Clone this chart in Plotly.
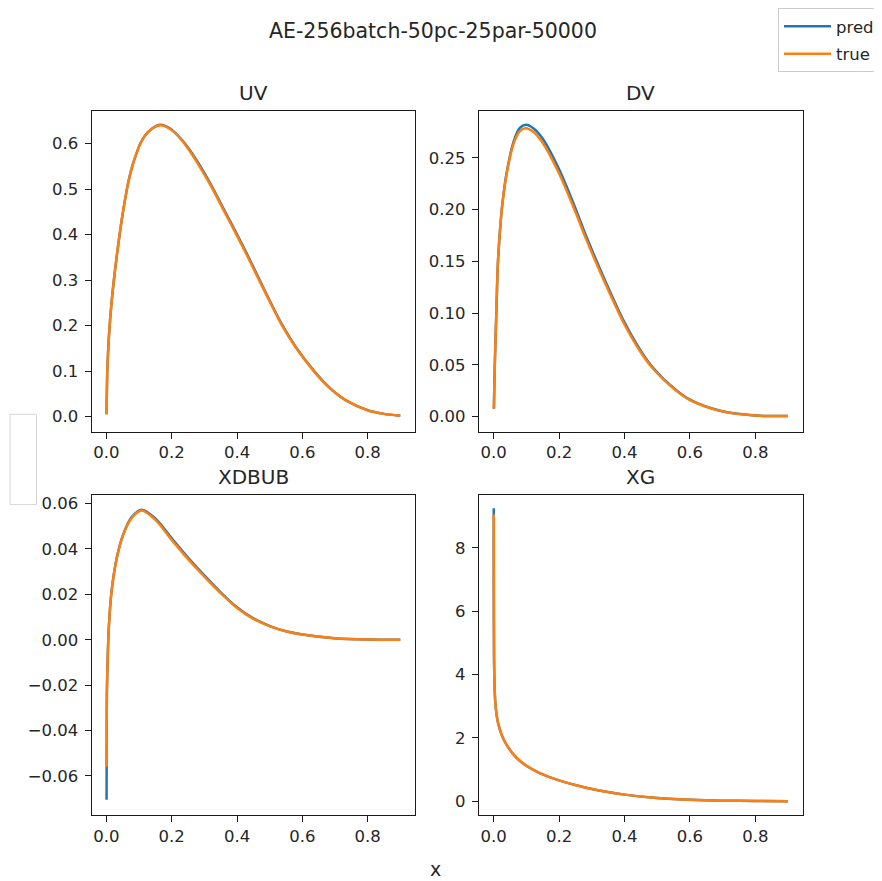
import plotly.graph_objects as go

# The page body has an 8 px margin, so the figure is drawn offset by 8 px.
OFF = 8
W, H = 882 - OFF, 881 - OFF
BLUE = "#1f77b4"
ORANGE = "#ff7f0e"
FONT = "DejaVu Sans"

# ---------------- data ----------------
x_uv = [0.0005, 0.003, 0.008, 0.016, 0.027, 0.040, 0.052, 0.067, 0.080, 0.093, 0.104, 0.118, 0.140,
        0.165, 0.195, 0.220, 0.247, 0.280, 0.323, 0.360, 0.398, 0.430, 0.466, 0.500, 0.538, 0.580,
        0.635, 0.665, 0.700, 0.735, 0.800, 0.850, 0.900]
uv_true = [0.005, 0.106, 0.179, 0.252, 0.325, 0.398, 0.455, 0.515, 0.552, 0.580, 0.600, 0.617, 0.633,
           0.640, 0.632, 0.616, 0.592, 0.556, 0.503, 0.452, 0.400, 0.355, 0.302, 0.253, 0.200, 0.152,
           0.100, 0.076, 0.053, 0.035, 0.014, 0.006, 0.002]
uv_pred = [0.005, 0.106, 0.179, 0.252, 0.325, 0.398, 0.455, 0.515, 0.552, 0.580, 0.600, 0.617, 0.633,
           0.641, 0.633, 0.617, 0.594, 0.559, 0.506, 0.455, 0.403, 0.358, 0.305, 0.255, 0.202, 0.153,
           0.101, 0.077, 0.053, 0.035, 0.014, 0.006, 0.002]

x_dv = [0.0005, 0.003, 0.006, 0.009, 0.012, 0.018, 0.027, 0.042, 0.062, 0.080, 0.098, 0.120, 0.149,
        0.200, 0.251, 0.282, 0.345, 0.400, 0.450, 0.488, 0.550, 0.600, 0.693, 0.800, 0.900]
dv_true = [0.0075, 0.0466, 0.0788, 0.111, 0.143, 0.175, 0.207, 0.239, 0.265, 0.276, 0.2787, 0.2755,
           0.265, 0.235, 0.197, 0.172, 0.126, 0.089, 0.062, 0.046, 0.027, 0.016, 0.0055, 0.001, 0.0005]
dv_pred = [0.0075, 0.0466, 0.0788, 0.111, 0.143, 0.175, 0.207, 0.240, 0.267, 0.279, 0.2820, 0.2790,
           0.269, 0.239, 0.2005, 0.175, 0.1285, 0.091, 0.0635, 0.047, 0.0276, 0.0163, 0.0056, 0.001, 0.0005]

x_xdbub = [0.0005, 0.001, 0.0015, 0.004, 0.008, 0.016, 0.032, 0.052, 0.078, 0.108, 0.150, 0.200,
           0.250, 0.282, 0.300, 0.350, 0.400, 0.450, 0.503, 0.550, 0.600, 0.698, 0.800, 0.900]
xdbub_true = [-0.056, -0.037, -0.0224, -0.0078, 0.0069, 0.0215, 0.0361, 0.0464, 0.0537, 0.0569,
              0.0528, 0.0440, 0.0355, 0.0305, 0.0278, 0.0205, 0.0140, 0.0092, 0.0058, 0.0037,
              0.0023, 0.0007, 0.0001, 0.0]
xdbub_pred = [-0.0705, -0.040, -0.0235, -0.0080, 0.0069, 0.0215, 0.0362, 0.0466, 0.0541, 0.0573,
              0.0534, 0.0447, 0.0362, 0.0311, 0.0283, 0.0209, 0.0143, 0.0094, 0.0059, 0.0037,
              0.0023, 0.0007, 0.0001, 0.0]

x_xg = [0.0001, 0.0003, 0.001, 0.003, 0.006, 0.014, 0.032, 0.067, 0.100, 0.139, 0.200, 0.282,
        0.340, 0.400, 0.490, 0.600, 0.700, 0.800, 0.900]
xg_true = [9.05, 6.63, 4.54, 3.49, 2.97, 2.44, 1.92, 1.40, 1.12, 0.90, 0.66, 0.43, 0.31, 0.21,
           0.11, 0.05, 0.02, 0.01, 0.002]
xg_pred = [9.25, 6.70, 4.56, 3.50, 2.98, 2.44, 1.92, 1.40, 1.12, 0.90, 0.66, 0.43, 0.31, 0.21,
           0.11, 0.05, 0.02, 0.01, 0.002]

panel_titles = ["UV", "DV", "XDBUB", "XG"]
x_ticks = [0.0, 0.2, 0.4, 0.6, 0.8]
uv_ticks = [0.0, 0.1, 0.2, 0.3, 0.4, 0.5, 0.6]
dv_ticks = [0.00, 0.05, 0.10, 0.15, 0.20, 0.25]
xdbub_ticks = [-0.06, -0.04, -0.02, 0.00, 0.02, 0.04, 0.06]
xg_ticks = [0, 2, 4, 6, 8]

suptitle = "AE-256batch-50pc-25par-50000"
xlabel = "x"

# ---------------- layout geometry (reference pixel positions) ----------------
def px_x(v):
    return (v - OFF) / W

def px_y(v):
    return 1 - (v - OFF) / H

col_dom = [[px_x(91.7), px_x(415)], [px_x(479), px_x(802.7)]]
row_dom = [[px_y(430), px_y(108)], [px_y(815), px_y(494)]]

panels = [
    (x_uv, uv_pred, uv_true, uv_ticks, ".1f", [-0.0328, 0.6722], 0, 0),
    (x_dv, dv_pred, dv_true, dv_ticks, ".2f", [-0.01446, 0.2957], 0, 1),
    (x_xdbub, xdbub_pred, xdbub_true, xdbub_ticks, ".2f", [-0.0773, 0.0636], 1, 0),
    (x_xg, xg_pred, xg_true, xg_ticks, "d", [-0.44, 9.657], 1, 1),
]

fig = go.Figure()
layout = dict(
    width=W, height=H,
    margin=dict(l=0, r=0, t=0, b=0),
    paper_bgcolor="white", plot_bgcolor="white",
    font=dict(family=FONT, size=16.5, color="#262626"),
    showlegend=True,
    legend=dict(x=px_x(778), y=px_y(5), xanchor="left", yanchor="top",
                bordercolor="#cccccc", borderwidth=1, bgcolor="white",
                font=dict(family=FONT, size=16.5, color="#262626"),
                itemwidth=47, tracegroupgap=3),
)

annotations = []
for i, (xs, yp, yt, yticks, fmt, yr, r, c) in enumerate(panels):
    n = "" if i == 0 else str(i + 1)
    xa, ya = "x" + n, "y" + n
    fig.add_trace(go.Scatter(x=xs, y=yp, mode="lines", name="pred", xaxis=xa, yaxis=ya,
                             legendgroup="pred",
                             line=dict(color=BLUE, width=2.5, shape="spline", smoothing=0.8),
                             showlegend=(i == 0)))
    fig.add_trace(go.Scatter(x=xs, y=yt, mode="lines", name="true", xaxis=xa, yaxis=ya,
                             legendgroup="true",
                             line=dict(color=ORANGE, width=2.5, shape="spline", smoothing=0.8),
                             showlegend=(i == 0)))
    common = dict(showline=True, linecolor="#1a1a1a", linewidth=1.3, mirror=True,
                  ticks="outside", ticklen=6, tickwidth=1.3, tickcolor="#1a1a1a",
                  showgrid=False, zeroline=False,
                  tickfont=dict(family=FONT, size=16.5, color="#262626"))
    if fmt == ".2f":
        ytext = [f"{v:.2f}".replace("-", "\u2212") for v in yticks]
    elif fmt == ".1f":
        ytext = [f"{v:.1f}" for v in yticks]
    else:
        ytext = [str(v) for v in yticks]
    layout["xaxis" + n] = dict(domain=col_dom[c], anchor=ya, range=[-0.045, 0.945],
                               tickvals=x_ticks, ticktext=[f"{v:.1f}" for v in x_ticks], **common)
    layout["yaxis" + n] = dict(domain=row_dom[r], anchor=xa, range=yr,
                               tickvals=yticks, ticktext=ytext, ticklabelstandoff=3, **common)
    cx = (col_dom[c][0] + col_dom[c][1]) / 2
    ty = px_y(90) if r == 0 else px_y(476)
    annotations.append(dict(text=panel_titles[i], x=cx, y=ty, xref="paper", yref="paper",
                            xanchor="center", yanchor="middle", showarrow=False,
                            font=dict(family=FONT, size=20, color="#262626")))

annotations.append(dict(text=suptitle, x=px_x(433), y=px_y(28), xref="paper", yref="paper",
                        xanchor="center", yanchor="middle", showarrow=False,
                        font=dict(family=FONT, size=20.5, color="#262626")))
annotations.append(dict(text=xlabel, x=px_x(435.5), y=px_y(869), xref="paper", yref="paper",
                        xanchor="center", yanchor="middle", showarrow=False,
                        font=dict(family=FONT, size=19, color="#262626")))
layout["annotations"] = annotations
layout["shapes"] = [dict(type="rect", xref="paper", yref="paper",
                         x0=px_x(10), x1=px_x(36.5), y0=px_y(503.3), y1=px_y(412.7),
                         line=dict(color="#d5d5d5", width=1), fillcolor="white", layer="below")]

fig.update_layout(**layout)
fig.write_html("out.html")
